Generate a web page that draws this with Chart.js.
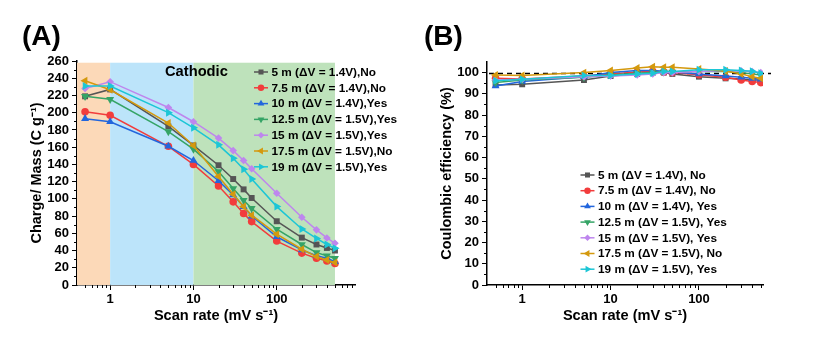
<!DOCTYPE html>
<html>
<head>
<meta charset="utf-8">
<script src="https://cdn.jsdelivr.net/npm/chart.js@4/dist/chart.umd.min.js"></script>
<style>
  html,body{margin:0;padding:0;background:#fff;}
  #wrap{position:relative;width:820px;height:350px;overflow:hidden;font-family:"Liberation Sans",Arial,sans-serif;}
  .panel{position:absolute;top:0;width:410px;height:350px;}
  .tag{position:absolute;top:20px;font-weight:bold;font-size:28px;color:#000;line-height:32px;}
</style>
</head>
<body>
<div id="wrap">
  <div class="panel" style="left:0"><canvas id="cA" width="410" height="350"></canvas></div>
  <div class="panel" style="left:410px"><canvas id="cB" width="410" height="350"></canvas></div>
  <div class="tag" style="left:22px">(A)</div>
  <div class="tag" style="left:424px">(B)</div>
</div>
<script>
// ---------------- DATA ----------------
const SCAN_RATES = [0.5, 1, 5, 10, 20, 30, 40, 50, 100, 200, 300, 400, 500];

const SERIES_NAMES_A = [
  "5 m (ΔV = 1.4V),No", "7.5 m (ΔV = 1.4V),No", "10 m (ΔV = 1.4V),Yes",
  "12.5 m (ΔV = 1.5V),Yes", "15 m (ΔV = 1.5V),Yes", "17.5 m (ΔV = 1.5V),No",
  "19 m (ΔV = 1.5V),Yes"
];
const SERIES_NAMES_B = [
  "5 m (ΔV = 1.4V), No", "7.5 m (ΔV = 1.4V), No", "10 m (ΔV = 1.4V), Yes",
  "12.5 m (ΔV = 1.5V), Yes", "15 m (ΔV = 1.5V), Yes", "17.5 m (ΔV = 1.5V), No",
  "19 m (ΔV = 1.5V), Yes"
];

// Charge / Mass (C g^-1)
const CHARGE_5M   = [219, 227, 184, 162, 139, 123, 111, 101, 74, 55, 47, 43, 40];
const CHARGE_7_5M = [201, 197, 161, 140, 115, 96.5, 83, 73.6, 51, 37, 31, 28, 25];
const CHARGE_10M  = [193, 189.5, 161, 144.5, 121, 104.6, 91, 80, 56, 40.7, 34, 31, 27];
const CHARGE_12_5M= [219, 215.5, 178, 157.7, 131.7, 112, 98.4, 89, 64.7, 47, 37.6, 34, 31];
const CHARGE_15M  = [228, 236, 206, 189.5, 170.5, 156, 144.5, 135, 106.5, 78.6, 64, 54.6, 48.4];
const CHARGE_17_5M= [237, 226.6, 188, 162, 126, 105.4, 91, 81, 59, 41.5, 33, 29, 26];
const CHARGE_19M  = [231, 231, 200, 182.5, 162.7, 147, 134.4, 123, 91, 65, 54, 47, 42.6];

// Coulombic efficiency (%)
const CE_5M   = [94.2, 94.5, 96.5, 98.4, 99.4, 100, 100, 99.4, 98.1, 97.3, 97, 96.5, 96.5];
const CE_7_5M = [97.3, 97, 98.4, 99.4, 100.3, 100.6, 100.3, 100, 99, 97.8, 96.5, 95.8, 95.3];
const CE_10M  = [93.7, 95.8, 98.1, 100, 101, 101, 100.6, 100.3, 99.4, 98.4, 97.8, 97.3, 96.9];
const CE_12_5M= [95.3, 96.5, 97.8, 98.9, 99.7, 100, 100.3, 100.3, 100.5, 100.5, 100, 99.4, 98.9];
const CE_15M  = [96.5, 96.9, 98.1, 98.4, 98.9, 99.4, 100, 100, 100.5, 101, 100.8, 100.5, 100];
const CE_17_5M= [98.9, 98.7, 100, 101, 102.2, 102.8, 102.5, 102.5, 101.7, 100.8, 99.4, 98.1, 97.3];
const CE_19M  = [96.2, 96.9, 98.7, 98.7, 99.4, 99.7, 100.5, 100.5, 101.3, 101.3, 101, 100.6, 99.7];

// Tick labels / tick values
const X_MAJOR_TICKS = [1, 10, 100];
const X_MINOR_TICKS = [0.5, 0.6, 0.7, 0.8, 0.9, 2, 3, 4, 5, 6, 7, 8, 9,
                       20, 30, 40, 50, 60, 70, 80, 90, 200, 300, 400, 500, 600, 700, 800];
const YA_MAJOR_TICKS = [0, 20, 40, 60, 80, 100, 120, 140, 160, 180, 200, 220, 240, 260];
const YA_MINOR_TICKS = [10, 30, 50, 70, 90, 110, 130, 150, 170, 190, 210, 230, 250];
const YB_MAJOR_TICKS = [0, 10, 20, 30, 40, 50, 60, 70, 80, 90, 100];
const YB_MINOR_TICKS = [5, 15, 25, 35, 45, 55, 65, 75, 85, 95];

// Shaded scan-rate regions (x from, x to)
const REGION_BOUNDS = [[0.4, 1], [1, 10], [10, 500]];
const REGION_TOP = 258;
const REFERENCE_CE = 100;

// ---------------- STYLE ----------------
const FONT = '"Liberation Sans", Arial, sans-serif';
Chart.defaults.font.family = FONT;
Chart.defaults.color = '#000';

const COLORS = ['#555555', '#F23C3C', '#2266DD', '#35A466', '#BE86EE', '#D4990E', '#1CC6D6'];
const STYLES = ['rect', 'circle', 'triangle', 'triangle', 'rectRot', 'triangle', 'triangle'];
const ROTS = [0, 0, 0, 180, 0, -90, 90];
const REGION_COLORS = ['#FCD9B8', '#BCE4FA', '#BEE2BB'];

function markerRadius(style) {
  return style === 'triangle' ? 4.6 : (style === 'rect' ? 4.2 : 3.8);
}

function makeDatasets(names, arrays) {
  return arrays.map((arr, i) => ({
    label: names[i],
    data: SCAN_RATES.map((x, j) => ({x: x, y: arr[j]})),
    borderColor: COLORS[i],
    backgroundColor: COLORS[i],
    pointStyle: STYLES[i],
    pointRotation: ROTS[i],
    markerRotation: ROTS[i],
    pointRadius: markerRadius(STYLES[i]),
    pointBorderWidth: 0,
    borderWidth: 1.5,
    tension: 0,
    order: arrays.length - i
  }));
}

const minorTicksPlugin = {
  id: 'minorTicks',
  afterDraw(chart, args, opts) {
    const ctx = chart.ctx;
    ctx.save();
    ctx.strokeStyle = '#000';
    ctx.lineWidth = 1;
    const xs = chart.scales.x, ys = chart.scales.y;
    const bottom = chart.chartArea.bottom, left = chart.chartArea.left;
    opts.x.forEach(v => {
      if (v < xs.min || v > xs.max) return;
      const p = Math.round(xs.getPixelForValue(v)) + 0.5;
      ctx.beginPath(); ctx.moveTo(p, bottom); ctx.lineTo(p, bottom + 3); ctx.stroke();
    });
    opts.y.forEach(v => {
      const p = Math.round(ys.getPixelForValue(v)) + 0.5;
      ctx.beginPath(); ctx.moveTo(left, p); ctx.lineTo(left - 3, p); ctx.stroke();
    });
    ctx.restore();
  }
};

const regionsPlugin = {
  id: 'regions',
  beforeDatasetsDraw(chart, args, opts) {
    if (!opts.bounds) return;
    const ctx = chart.ctx, xs = chart.scales.x, ys = chart.scales.y;
    ctx.save();
    opts.bounds.forEach((b, i) => {
      const x0 = xs.getPixelForValue(b[0]), x1 = xs.getPixelForValue(b[1]);
      const y0 = ys.getPixelForValue(opts.top), y1 = ys.getPixelForValue(0);
      ctx.fillStyle = opts.colors[i];
      ctx.fillRect(x0, y0, x1 - x0, y1 - y0);
    });
    if (opts.text) {
      ctx.fillStyle = '#000';
      ctx.font = 'bold 14.7px ' + FONT;
      ctx.textBaseline = 'middle';
      ctx.textAlign = 'left';
      ctx.fillText(opts.text, chart.chartArea.left + 88, chart.chartArea.top + 11);
    }
    ctx.restore();
  }
};

const refLinePlugin = {
  id: 'refLine',
  beforeDatasetsDraw(chart, args, opts) {
    if (opts.value === undefined) return;
    const ctx = chart.ctx, ys = chart.scales.y;
    const y = Math.round(ys.getPixelForValue(opts.value)) + 0.5;
    ctx.save();
    ctx.strokeStyle = '#000';
    ctx.lineWidth = 1.6;
    ctx.setLineDash([5, 4]);
    ctx.beginPath();
    ctx.moveTo(chart.chartArea.left + 2, y);
    ctx.lineTo(chart.chartArea.right + 8, y);
    ctx.stroke();
    ctx.restore();
  }
};

const customLegendPlugin = {
  id: 'customLegend',
  afterDraw(chart, args, opts) {
    const ctx = chart.ctx;
    ctx.save();
    ctx.font = 'bold 11.8px ' + FONT;
    ctx.textBaseline = 'middle';
    ctx.textAlign = 'left';
    chart.data.datasets.forEach((ds, i) => {
      const y = opts.y + i * opts.dy;
      const x = opts.x;
      ctx.strokeStyle = ds.borderColor;
      ctx.lineWidth = 1.5;
      ctx.setLineDash([]);
      ctx.beginPath(); ctx.moveTo(x, y); ctx.lineTo(x + 14, y); ctx.stroke();
      ctx.fillStyle = ds.backgroundColor;
      Chart.helpers.drawPoint(ctx, {pointStyle: ds.pointStyle, rotation: ds.markerRotation,
        radius: markerRadius(ds.pointStyle) * 0.85, borderWidth: 0}, x + 7, y);
      ctx.fillStyle = '#000';
      ctx.fillText(ds.label, x + 17.5, y + 0.5);
    });
    ctx.restore();
  }
};

function makeOptions(cfg) {
  return {
    responsive: false,
    animation: false,
    devicePixelRatio: 1,
    layout: {padding: {left: 0, top: cfg.top, right: cfg.right, bottom: 0}},
    plugins: {
      legend: {display: false},
      tooltip: {enabled: false},
      minorTicks: {x: X_MINOR_TICKS, y: cfg.yMinor},
      regions: cfg.regions || {},
      refLine: cfg.refLine || {},
      customLegend: cfg.legend
    },
    scales: {
      x: {
        type: 'logarithmic',
        min: 0.4, max: cfg.xMax,
        afterBuildTicks: s => { s.ticks = X_MAJOR_TICKS.map(v => ({value: v})); },
        afterFit: s => { s.height = 65; },
        ticks: {font: {size: 13, weight: 'bold'}, padding: 2, maxRotation: 0, autoSkip: false,
                callback: v => String(v)},
        grid: {display: true, drawOnChartArea: false, drawTicks: true, tickLength: 5,
               tickColor: '#000', tickWidth: 1},
        border: {display: true, color: '#000', width: 1.5},
        title: {display: true, text: 'Scan rate (mV s⁻¹)',
                font: {size: 14.6, weight: 'bold'}, padding: {top: 0, bottom: 25}}
      },
      y: {
        type: 'linear',
        min: 0, max: cfg.yMax,
        afterBuildTicks: s => { s.ticks = cfg.yMajor.map(v => ({value: v})); },
        afterFit: s => { s.width = 77; },
        ticks: {font: {size: 13, weight: 'bold'}, padding: 3, autoSkip: false},
        grid: {display: true, drawOnChartArea: false, drawTicks: true, tickLength: 5,
               tickColor: '#000', tickWidth: 1},
        border: {display: true, color: '#000', width: 1.5},
        title: {display: true, text: cfg.yTitle,
                font: {size: 14.5, weight: 'bold'}, padding: {top: 28, bottom: 0}}
      }
    }
  };
}

new Chart(document.getElementById('cA'), {
  type: 'line',
  data: {datasets: makeDatasets(SERIES_NAMES_A,
    [CHARGE_5M, CHARGE_7_5M, CHARGE_10M, CHARGE_12_5M, CHARGE_15M, CHARGE_17_5M, CHARGE_19M])},
  options: makeOptions({
    top: 61, right: 55, xMax: 870, yMax: 260,
    yMajor: YA_MAJOR_TICKS, yMinor: YA_MINOR_TICKS,
    yTitle: 'Charge/ Mass (C g⁻¹)',
    regions: {bounds: REGION_BOUNDS, colors: REGION_COLORS, top: REGION_TOP, text: 'Cathodic'},
    legend: {x: 254, y: 72, dy: 15.8}
  }),
  plugins: [regionsPlugin, minorTicksPlugin, customLegendPlugin]
});

new Chart(document.getElementById('cB'), {
  type: 'line',
  data: {datasets: makeDatasets(SERIES_NAMES_B,
    [CE_5M, CE_7_5M, CE_10M, CE_12_5M, CE_15M, CE_17_5M, CE_19M])},
  options: makeOptions({
    top: 62, right: 57, xMax: 530, yMax: 105,
    yMajor: YB_MAJOR_TICKS, yMinor: YB_MINOR_TICKS,
    yTitle: 'Coulombic efficiency (%)',
    refLine: {value: REFERENCE_CE},
    legend: {x: 170.5, y: 175, dy: 15.7}
  }),
  plugins: [refLinePlugin, minorTicksPlugin, customLegendPlugin]
});
</script>
</body>
</html>
